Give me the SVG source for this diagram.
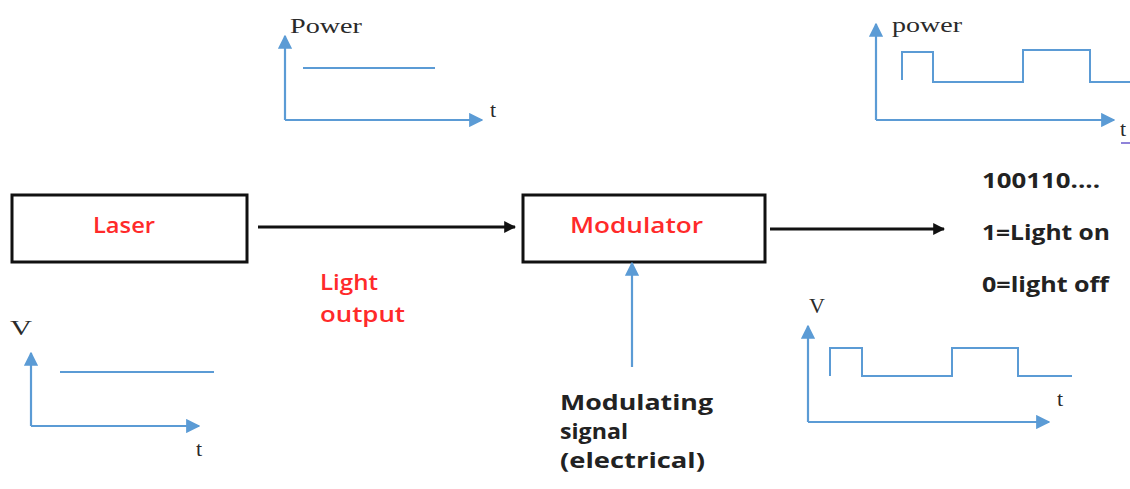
<svg xmlns="http://www.w3.org/2000/svg" width="1130" height="489" viewBox="0 0 1130 489">
<style>
.box{fill:#fff;stroke:#111;stroke-width:3}
.lbl{font-family:"Open Sans","Liberation Sans",sans-serif;font-size:21px;font-weight:600;fill:#ff2a2a}
.ax{stroke:#5b9bd5;stroke-width:2.2;fill:none}
.sig{stroke:#5b9bd5;stroke-width:2;fill:none}
.ser{font-family:"Liberation Serif",serif;font-size:22px;fill:#2a2a2a}
.bt{font-family:"Open Sans","Liberation Sans",sans-serif;font-weight:bold;font-size:21px;fill:#222}
.conn{stroke:#111;stroke-width:3;fill:none}
</style>
<defs>
<marker id="ab" viewBox="0 0 10 10" refX="9" refY="5" markerWidth="4" markerHeight="4" orient="auto" markerUnits="strokeWidth"><path d="M0,0L10,5L0,10z" fill="#111"/></marker>
<marker id="abl" viewBox="0 0 10 10" refX="9" refY="5" markerWidth="6.5" markerHeight="6.5" orient="auto" markerUnits="strokeWidth"><path d="M0,0L10,5L0,10z" fill="#5b9bd5"/></marker>
</defs>
<g id="laser"><rect class="box" x="12" y="195" width="235" height="67"/><text class="lbl" x="93" y="233" textLength="62" lengthAdjust="spacingAndGlyphs">Laser</text></g>
<g id="modulator"><rect class="box" x="523" y="195" width="242" height="67"/><text class="lbl" x="570" y="233" textLength="133" lengthAdjust="spacingAndGlyphs">Modulator</text></g>
<g id="connectors">
<line class="conn" x1="258" y1="227" x2="515" y2="227" marker-end="url(#ab)"/>
<line class="conn" x1="770" y1="229" x2="944" y2="229" marker-end="url(#ab)"/>
<line class="ax" x1="632" y1="367" x2="632" y2="263" marker-end="url(#abl)"/>
</g>
<g id="light-output"><text class="lbl" x="320" y="290" textLength="58" lengthAdjust="spacingAndGlyphs">Light</text><text class="lbl" x="320" y="322" textLength="85" lengthAdjust="spacingAndGlyphs">output</text></g>
<g id="modulating-signal"><text class="bt" x="560" y="410" textLength="153" lengthAdjust="spacingAndGlyphs">Modulating</text><text class="bt" x="560" y="439" textLength="68" lengthAdjust="spacingAndGlyphs">signal</text><text class="bt" x="560" y="468" textLength="145" lengthAdjust="spacingAndGlyphs">(electrical)</text></g>
<g id="bits"><text class="bt" x="982" y="188" textLength="118" lengthAdjust="spacingAndGlyphs">100110....</text><text class="bt" x="982" y="240" textLength="128" lengthAdjust="spacingAndGlyphs">1=Light on</text><text class="bt" x="982" y="292" textLength="127" lengthAdjust="spacingAndGlyphs">0=light off</text></g>
<g id="chart-power-cw">
<line class="ax" x1="285" y1="120" x2="285" y2="36" marker-end="url(#abl)"/>
<line class="ax" x1="285" y1="120" x2="482" y2="120" marker-end="url(#abl)"/>
<line class="sig" x1="303" y1="68" x2="435" y2="68"/>
<text class="ser" x="290" y="33" textLength="72" lengthAdjust="spacingAndGlyphs">Power</text><text class="ser" x="490" y="117">t</text>
</g>
<g id="chart-power-mod">
<line class="ax" x1="876" y1="120" x2="876" y2="24" marker-end="url(#abl)"/>
<line class="ax" x1="876" y1="120" x2="1114" y2="120" marker-end="url(#abl)"/>
<polyline class="sig" points="902,80 902,52 933,52 933,82 1023,82 1023,50 1090,50 1090,82 1130,82"/>
<text class="ser" x="892" y="32" textLength="70" lengthAdjust="spacingAndGlyphs">power</text><text class="ser" x="1120" y="136">t</text>
<line x1="1121" y1="143" x2="1130" y2="143" stroke="#6a5acd" stroke-width="1.5"/>
</g>
<g id="chart-v-dc">
<line class="ax" x1="31" y1="426" x2="31" y2="353" marker-end="url(#abl)"/>
<line class="ax" x1="31" y1="426" x2="199" y2="426" marker-end="url(#abl)"/>
<line class="sig" x1="60" y1="372" x2="214" y2="372"/>
<text class="ser" x="10" y="335" textLength="22" lengthAdjust="spacingAndGlyphs">V</text><text class="ser" x="196" y="456">t</text>
</g>
<g id="chart-v-mod">
<line class="ax" x1="808" y1="422" x2="808" y2="326" marker-end="url(#abl)"/>
<line class="ax" x1="808" y1="422" x2="1049" y2="422" marker-end="url(#abl)"/>
<polyline class="sig" points="830,376 830,348 862,348 862,376 952,376 952,348 1018,348 1018,376 1072,376"/>
<text class="ser" x="809" y="313">V</text><text class="ser" x="1057" y="406">t</text>
</g>
</svg>
